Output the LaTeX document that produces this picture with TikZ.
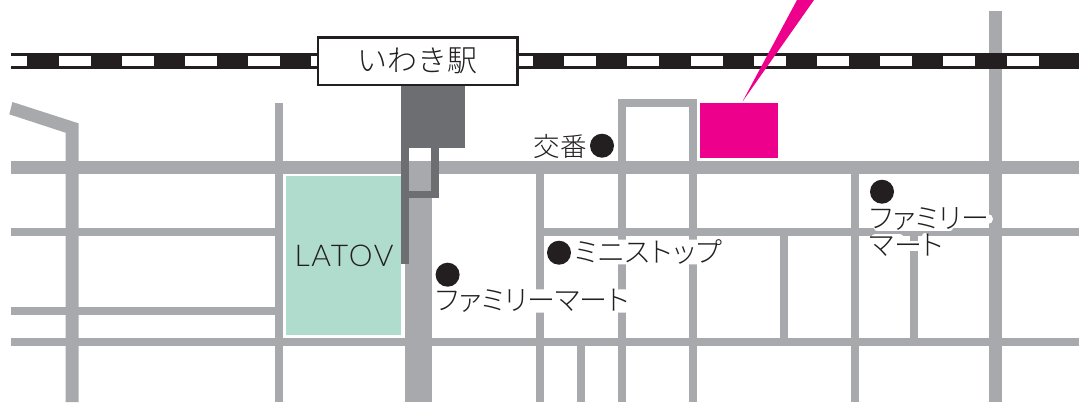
\documentclass[tikz,border=0pt]{standalone}
\usepackage{fontspec}
\setmainfont{Lato Light}
\newfontfamily\jp{Noto Sans CJK JP Light}
\newfontfamily\jpk[RawFeature=+palt]{Noto Sans CJK JP Light}
\definecolor{roadc}{HTML}{A7A9AC}
\definecolor{inkc}{HTML}{231F20}
\definecolor{bldg}{HTML}{6D6E71}
\definecolor{pinkc}{HTML}{EC008C}
\definecolor{mint}{HTML}{B0DCCD}
\tikzset{
  road/.style={fill=roadc},
  shop/.style={circle,fill=inkc,inner sep=0pt,minimum size=24pt},
  jplabel/.style={text=inkc,inner sep=0pt,font=\jpk\fontsize{28}{28}\selectfont},
  halo/.style={jplabel,fill=white,rounded corners=3pt,inner xsep=1pt,inner ysep=0pt},
  haloline/.style={draw=white,line cap=round},
}
\begin{document}
\begin{tikzpicture}[x=1pt,y=-1pt]
\useasboundingbox (0,0) rectangle (1079,402);
\fill[white] (0,0) rectangle (1079,402);
% horizontal roads
\fill[road] (11,160.5) rectangle (1079,174);
\fill[road] (11,228.3) rectangle (275,236.3);
\fill[road] (536,228.3) rectangle (1079,236.3);
\fill[road] (11,306.7) rectangle (275,314.7);
\fill[road] (11,338.3) rectangle (1079,346.3);
% vertical roads
\fill[road] (12.4,102) -- (78.5,123.3) -- (78.5,402) -- (65.5,402) -- (65.5,132.7) -- (9.3,114.3) -- cycle;
\fill[road] (275,102.7) rectangle (283,402);
\fill[road] (405,160.5) rectangle (431.5,402);
\fill[road] (536,174) rectangle (543.5,402);
\fill[road] (577,346) rectangle (585,402);
\fill[road] (618,98.7) rectangle (697,106.7);
\fill[road] (618,98.7) rectangle (625.5,402);
\fill[road] (689,98.7) rectangle (697,402);
\fill[road] (779.7,236) rectangle (788,339);
\fill[road] (851,174) rectangle (859,402);
\fill[road] (909.6,236) rectangle (918,339);
\fill[road] (988.6,10.7) rectangle (1002,402);
% railway
\fill[inkc] (11,53) rectangle (1079,69);
\fill[white] (11,56) rectangle (27,66.2);
\foreach \k in {0,...,15}{
  \pgfmathsetmacro{\xa}{58.5+63.2*\k}
  \pgfmathsetmacro{\xb}{min(\xa+32,1079)}
  \fill[white] (\xa,56) rectangle (\xb,66.2);
}
% LATOV block
\fill[mint] (286,176) rectangle (401,335);
\node[text=inkc,inner sep=0pt,font=\addfontfeature{LetterSpace=6}\fontsize{30}{30}\selectfont] (latov) at (344,256) {LATOV};
% station building
\fill[bldg] (401,86) rectangle (465,148);
\fill[bldg] (401,148) rectangle (409,264);
\fill[bldg] (431,148) rectangle (439,198);
\fill[bldg] (401,191) rectangle (439,198);
% destination
\fill[pinkc] (700,103) rectangle (778,157.7);
\fill[pinkc] (742.4,101.7) -- (797,0) -- (814,0) -- cycle;
% station label
\node[draw=inkc,line width=2.5pt,fill=white,minimum width=199.5pt,minimum height=47.5pt,inner sep=0pt,text=inkc,font=\jp\fontsize{30}{30}\selectfont] (station) at (417.5,61) {いわき駅};
% white halo where the two-line label crosses roads
\draw[haloline,line width=6pt] (877,228) -- (950,228);
\draw[haloline,line width=10pt] (975,219) -- (988,219);
\draw[haloline,line width=7pt] (875,237.5) -- (900,237.5);
\draw[haloline,line width=6pt] (925,236) -- (925,240);
\draw[haloline,line width=10pt] (897,246) -- (925,246);
% labels
\node[shop] (koban) at (602,145.7) {};
\node[jplabel,anchor=east,font=\jpk\fontsize{26.5}{26.5}\selectfont] (kobanlabel) at (587,146) {交番};
\node[shop] (fm1) at (447.6,274.7) {};
\node[halo,anchor=west] (fm1label) at (434,301) {ファミリーマート};
\node[shop] (ms) at (559,252.7) {};
\node[halo,anchor=west,font=\jpk\addfontfeature{LetterSpace=3}\fontsize{28}{28}\selectfont] (mslabel) at (573,252) {ミニストップ};
\node[shop] (fm2) at (882,191.7) {};
\node[jplabel,anchor=west] (fm2label) at (869,219) {ファミリー};
\node[jplabel,anchor=west] (fm2labelb) at (869,245) {マート};
\end{tikzpicture}
\end{document}
